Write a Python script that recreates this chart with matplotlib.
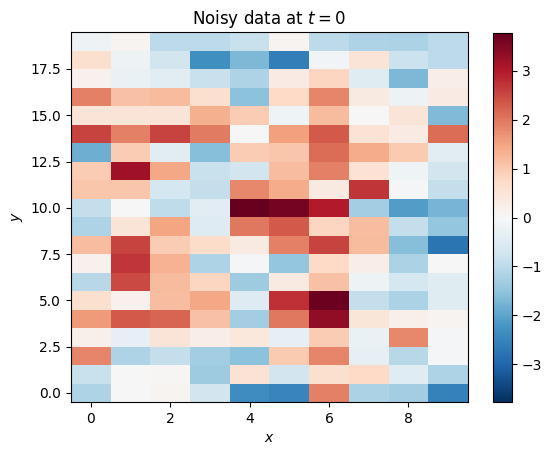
import numpy as np
import matplotlib
matplotlib.use('Agg')
import matplotlib.pyplot as plt

# grid values, listed from the top row (y=19) down to the bottom row (y=0)
row19 = [-0.2, 0.1, -1.0, -1.0, -0.85, 0.1, -1.0, -1.15, -1.2, -1.0]
row18 = [0.6, -0.2, -0.7, -2.3, -1.7, -2.6, -0.1, 0.5, -0.8, -1.0]
row17 = [0.15, -0.25, -0.4, -0.85, -1.15, 0.3, 0.8, -0.45, -1.7, 0.25]
row16 = [1.9, 1.1, 1.2, 0.6, -1.55, 0.75, 1.85, 0.35, -0.2, 0.3]
row15 = [0.5, 0.5, 0.5, 1.35, 0.95, -0.15, 1.2, 0.0, 0.5, -1.65]
row14 = [2.55, 1.9, 2.55, 1.95, 0.0, 1.55, 2.3, 0.55, 0.3, 2.1]
row13 = [-1.85, 0.95, -0.4, -1.6, 0.95, 1.05, 2.1, 1.4, 1.0, -0.4]
row12 = [0.95, 3.2, 1.45, -0.85, -0.7, 1.15, 1.9, 0.55, -0.15, -0.7]
row11 = [1.05, 1.05, -0.65, -0.9, 1.8, 1.4, 0.35, 2.7, -0.05, -0.9]
row10 = [-0.9, 0.0, -0.95, -0.4, 3.77, 3.6, 3.0, -1.3, -2.1, -1.75]
row9 = [-1.15, 0.5, 1.5, -0.5, 2.0, 2.3, 0.8, 1.15, -0.9, -1.45]
row8 = [1.15, 2.55, 0.95, 0.7, 0.35, 1.9, 2.55, 1.2, -1.6, -2.75]
row7 = [0.15, 2.7, 1.3, -1.15, -0.05, -1.45, 0.75, 0.25, -1.2, 0.0]
row6 = [-1.05, 2.5, 1.2, 0.8, -1.35, 0.35, 1.1, -0.2, -0.65, -0.45]
row5 = [0.6, 0.15, 1.15, 1.45, -0.5, 2.75, 3.7, -0.9, -1.2, -0.45]
row4 = [1.6, 2.3, 2.2, 1.1, -1.3, 2.0, 3.35, 0.45, 0.2, 0.1]
row3 = [0.2, -0.3, 0.5, 0.25, 0.4, -0.3, 0.95, -0.25, 1.8, -0.05]
row2 = [1.85, -1.15, -0.9, -1.3, -1.55, 1.0, 1.85, -0.3, -1.05, -0.05]
row1 = [-0.85, 0.0, 0.05, -1.35, 0.55, -0.7, 0.6, 0.75, -0.45, -1.15]
row0 = [-1.15, 0.0, 0.1, -0.7, -2.35, -2.5, 1.9, -1.2, -1.3, -2.55]

rows_top_down = [row19, row18, row17, row16, row15, row14, row13, row12, row11, row10,
                 row9, row8, row7, row6, row5, row4, row3, row2, row1, row0]
data = np.array(rows_top_down[::-1])

vmax = np.abs(data).max()

fig = plt.figure(figsize=(5.51, 4.55), dpi=100)
ax = fig.add_axes([71 / 551, 53 / 455, 397 / 551, 370 / 455])
cax = fig.add_axes([493 / 551, 53 / 455, 19 / 551, 369 / 455])

im = ax.imshow(data, cmap='RdBu_r', origin='lower', aspect='auto',
               vmin=-vmax, vmax=vmax)
fig.colorbar(im, cax=cax)

ax.set_title('Noisy data at $t = 0$')
ax.set_xlabel('$x$')
ax.set_ylabel('$y$')

fig.savefig('out.png', dpi=100)
